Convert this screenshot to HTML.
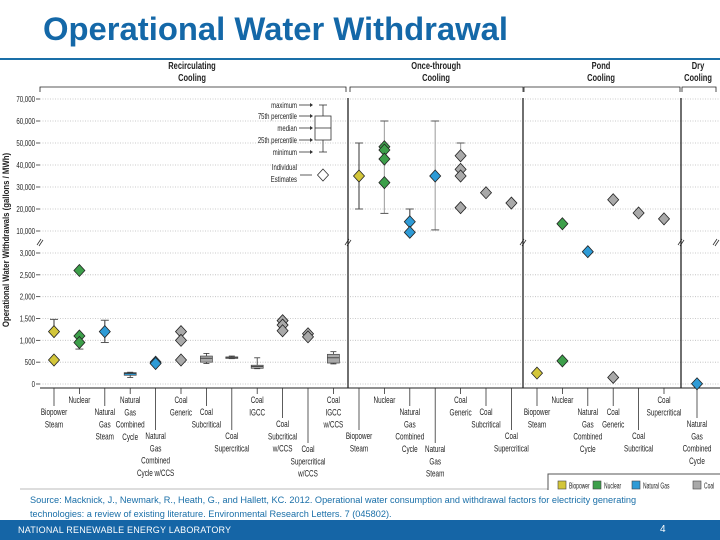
<!DOCTYPE html>
<html><head><meta charset="utf-8">
<style>
html,body{margin:0;padding:0;background:#fff;}
body{width:720px;height:540px;overflow:hidden;position:relative;font-family:"Liberation Sans",sans-serif;}
#title{position:absolute;left:43px;top:10px;font-size:32.8px;font-weight:bold;color:#1468a8;}
#rule{position:absolute;left:0;top:58px;width:720px;height:2px;background:#1a6fa8;}
#src{position:absolute;left:30px;top:494px;font-size:9.2px;color:#1a6fa8;line-height:13.5px;white-space:nowrap;}
#footer{position:absolute;left:0;top:520px;width:720px;height:20px;background:#1565a6;color:#fff;font-size:9px;}
#footer .l{position:absolute;left:18px;top:5px;letter-spacing:0.2px;}
#footer .r{position:absolute;left:660px;top:4px;font-size:10px;}
svg{position:absolute;left:0;top:0;}
</style></head>
<body>
<div id="title">Operational Water Withdrawal</div>
<div id="rule"></div>
<svg id="chart" width="720" height="540"></svg>
<div id="src">Source: Macknick, J., Newmark, R., Heath, G., and Hallett, KC. 2012. Operational water consumption and withdrawal factors for electricity generating<br>technologies: a review of existing literature. Environmental Research Letters. 7 (045802).</div>
<div id="footer"><span class="l">NATIONAL RENEWABLE ENERGY LABORATORY</span><span class="r">4</span></div>
<script>
const upperTicks=[70000,60000,50000,40000,30000,20000,10000];
const lowerTicks=[3000,2500,2000,1500,1000,500,0];
const tickLabels=["70,000","60,000","50,000","40,000","30,000","20,000","10,000","3,000","2,500","2,000","1,500","1,000","500","0"];
const sections=["Recirculating|Cooling","Once-through|Cooling","Pond|Cooling","Dry|Cooling"];
const categories=[
"Biopower|Steam","Nuclear","Natural|Gas|Steam","Natural|Gas|Combined|Cycle","Natural|Gas|Combined|Cycle w/CCS","Coal|Generic","Coal|Subcritical","Coal|Supercritical","Coal|IGCC","Coal|Subcritical|w/CCS","Coal|Supercritical|w/CCS","Coal|IGCC|w/CCS",
"Biopower|Steam","Nuclear","Natural|Gas|Combined|Cycle","Natural|Gas|Steam","Coal|Generic","Coal|Subcritical","Coal|Supercritical",
"Biopower|Steam","Nuclear","Natural|Gas|Combined|Cycle","Coal|Generic","Coal|Subcritical","Coal|Supercritical",
"Natural|Gas|Combined|Cycle"];
const catSection=[0,0,0,0,0,0,0,0,0,0,0,0,1,1,1,1,1,1,1,2,2,2,2,2,2,3];
const labelLevel=[1,0,1,0,3,0,1,3,0,2,4,0, 3,0,1,4,0,1,3, 1,0,1,1,3,0, 2];
const diamondCat=[0,0,1,1,1,2,4,4,5,5,5,9,9,9,10,10,12,13,13,13,13,14,14,15,16,16,16,16,17,18,19,20,20,21,22,22,23,24,25];
const diamondVal=[1200,550,2600,1100,950,1200,500,470,1200,1000,550,1450,1350,1220,1150,1080,35000,48300,46800,42700,32000,14200,9400,35000,44200,38000,35000,20600,27400,22700,250,13300,530,3030,24200,150,18200,15500,5];
const diamondFuel=["B","B","N","N","N","G","G","G","C","C","C","C","C","C","C","C","B","N","N","N","N","G","G","G","C","C","C","C","C","C","B","N","N","G","C","C","C","C","G"];
const whiskerCat=[0,1,2,12,13,14,15,16];
const whiskerLo=[1200,800,950,20000,18000,9400,10500,44000];
const whiskerHi=[1480,1100,1460,50000,60000,20000,60000,50000];
const boxCat=[3,6,7,8,11];
const boxMin=[150,470,580,350,460];
const boxQ1=[200,500,590,360,480];
const boxMed=[240,590,610,400,600];
const boxQ3=[260,640,620,430,680];
const boxMax=[270,700,640,600,740];
const legendFuels=["Biopower","Nuclear","Natural Gas","Coal"];

const fuelColor={B:"#d3c63a",N:"#3d9f4a",G:"#2e9bd6",C:"#a9a9a9"};
const S=document.getElementById('chart');const NS="http://www.w3.org/2000/svg";
function mk(t,a,p){const e=document.createElementNS(NS,t);for(const k in a)e.setAttribute(k,a[k]);(p||S).appendChild(e);return e;}
function txt(x,yy,s,size,anchor,weight,sx){const t=mk('text',{x:0,y:0,transform:`translate(${x},${yy}) scale(${sx||0.72},1)`,"text-anchor":anchor||"middle","font-size":size,"font-weight":weight||"normal",fill:"#222"});t.textContent=s;return t;}
function y(v){return v>5000?231-(v-10000)*0.0022:384-v*131/3000;}
const secStart=[54,359,537,697],step=25.4;
function xOf(i){const s=catSection[i];let n=0;for(let j=0;j<i;j++)if(catSection[j]===s)n++;return secStart[s]+n*step;}
const allTicks=upperTicks.concat(lowerTicks);
allTicks.forEach((v,k)=>{const yy=k<7?y(Math.max(v,10000)):384-v*131/3000;
 const g=mk('line',{x1:40,x2:720,y1:yy,y2:yy,stroke:"#bbb","stroke-dasharray":"1,1.5","stroke-width":0.8});
 
 mk('line',{x1:36,x2:40,y1:yy,y2:yy,stroke:"#333","stroke-width":0.8});
 const t=txt(35,yy+3,tickLabels[k],8.5,"end");
 });
[40,348,523,681,716].forEach(x=>{mk('line',{x1:x-3,y1:245,x2:x+1,y2:239,stroke:"#333","stroke-width":0.8});mk('line',{x1:x-1,y1:246,x2:x+3,y2:240,stroke:"#333","stroke-width":0.8});});
[348,523,681].forEach(x=>{const l=mk('line',{x1:x,x2:x,y1:98,y2:388,stroke:"#222","stroke-width":1.3});});
const ax=mk('line',{x1:40,x2:720,y1:388,y2:388,stroke:"#222","stroke-width":1});
const br=[[40,346],[350,523],[524,680],[682,716]];const secCx=[192,436,601,698];
sections.forEach((s,k)=>{const[a,b]=br[k];mk('path',{d:`M${a},92V87H${b}V92`,fill:"none",stroke:"#222","stroke-width":0.8});
 s.split('|').forEach((ln,i)=>{const t=txt(secCx[k],69+i*12,ln,10,"middle","bold",0.75);
 });});
const yt=mk('text',{transform:"translate(9,240) rotate(-90) scale(0.82,1)","text-anchor":"middle","font-size":9.5,"font-weight":"bold",fill:"#222"});yt.textContent="Operational Water Withdrawals (gallons / MWh)";

const levelY=[403,415,427,439,452];
categories.forEach((c,i)=>{const x=xOf(i),ly=levelY[labelLevel[i]];
 mk('line',{x1:x,x2:x,y1:388,y2:ly-9,stroke:"#333","stroke-width":0.8});
 c.split('|').forEach((ln,j)=>{const t=txt(x,ly+j*12.3,ln,8.8,"middle");
 });});
whiskerCat.forEach((c,i)=>{const x=xOf(c),col=whiskerHi[i]>5000&&c>=13&&c!=14?"#aaa":"#555";
 const w=mk('line',{x1:x,x2:x,y1:y(whiskerLo[i]),y2:y(whiskerHi[i]),stroke:col,"stroke-width":1.2});
 [whiskerLo[i],whiskerHi[i]].forEach(v=>mk('line',{x1:x-4,x2:x+4,y1:y(v),y2:y(v),stroke:"#555","stroke-width":1}));});
boxCat.forEach((c,i)=>{const x=xOf(c),col=c===3?"#2e9bd6":"#a9a9a9";
 mk('line',{x1:x,x2:x,y1:y(boxMin[i]),y2:y(boxMax[i]),stroke:"#333","stroke-width":0.8});
 [boxMin[i],boxMax[i]].forEach(v=>mk('line',{x1:x-3,x2:x+3,y1:y(v),y2:y(v),stroke:"#333","stroke-width":0.8}));
 const b=mk('rect',{x:x-6,y:y(boxQ3[i]),width:12,height:Math.max(1.5,y(boxQ1[i])-y(boxQ3[i])),fill:col,stroke:"#444","stroke-width":0.7});
 
 mk('line',{x1:x-6,x2:x+6,y1:y(boxMed[i]),y2:y(boxMed[i]),stroke:"#333","stroke-width":0.8});});
diamondCat.forEach((c,i)=>{const x=xOf(c),yy=y(diamondVal[i]);
 const d=mk('path',{d:`M${x},${yy-6}L${x+5.5},${yy}L${x},${yy+6}L${x-5.5},${yy}Z`,fill:fuelColor[diamondFuel[i]],stroke:"#222","stroke-width":0.8});
 });
const ky=[105,116,128,140,152],kl=["maximum","75th percentile","median","25th percentile","minimum"];
kl.forEach((s,i)=>{const t=txt(297,ky[i]+3,s,8.3,"end");
 
 mk('line',{x1:299,x2:310,y1:ky[i],y2:ky[i],stroke:"#333","stroke-width":0.8});mk('path',{d:`M310,${ky[i]-2}L313,${ky[i]}L310,${ky[i]+2}Z`,fill:"#333"});});
mk('line',{x1:323,x2:323,y1:105,y2:152,stroke:"#333","stroke-width":0.8});
mk('rect',{x:315,y:116,width:16,height:24,fill:"#fff",stroke:"#333","stroke-width":0.8});
mk('line',{x1:315,x2:331,y1:128,y2:128,stroke:"#333","stroke-width":0.8});
mk('line',{x1:319,x2:327,y1:105,y2:105,stroke:"#333","stroke-width":0.8});mk('line',{x1:319,x2:327,y1:152,y2:152,stroke:"#333","stroke-width":0.8});
["Individual","Estimates"].forEach((s,i)=>{const t=txt(297,170+i*12,s,8.3,"end");
 });
mk('line',{x1:300,x2:312,y1:175,y2:175,stroke:"#333","stroke-width":0.8});
mk('path',{d:"M323,169L328.5,175L323,181L317.5,175Z",fill:"#fff",stroke:"#333","stroke-width":0.8});
mk('line',{x1:20,x2:548,y1:489,y2:489,stroke:"#bbb","stroke-width":1});
mk('path',{d:"M548,490V474H720",fill:"none",stroke:"#555","stroke-width":1});
const lc=["B","N","G","C"];const legX=[558,593,632,693];
legendFuels.forEach((s,i)=>{const X=legX[i];
 const r=mk('rect',{x:X,y:481,width:8,height:8,fill:fuelColor[lc[i]],stroke:"#444","stroke-width":0.6});
 
 const t=txt(X+11,488.5,s,8.3,"start",null,0.6);
 });
</script>
</body></html>
